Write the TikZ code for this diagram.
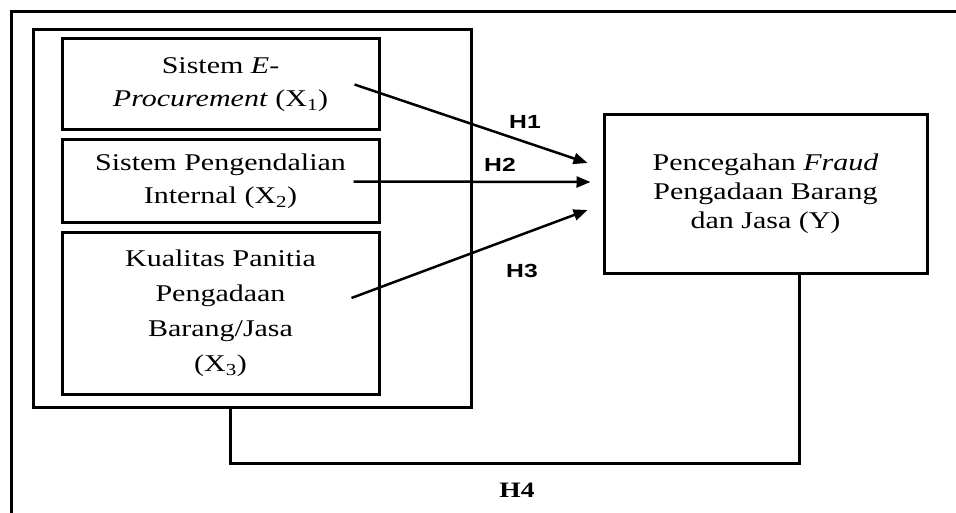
\documentclass[tikz,border=0pt]{standalone}
\usepackage{fontspec}
\setmainfont[FakeStretch=1.25]{Liberation Serif}
\newfontfamily\hypfont[FakeStretch=1.3]{Liberation Sans}
\usetikzlibrary{arrows.meta,calc}

\tikzset{
  varbox/.style={draw, line width=3pt, align=center, inner sep=0pt,
    font=\fontsize{24}{33}\selectfont},
  hyplabel/.style={font=\hypfont\bfseries\fontsize{19}{20}\selectfont},
  hyparrow/.style={line width=2.5pt, -{Triangle[length=14pt,width=11pt]}}
}

\begin{document}
\begin{tikzpicture}[x=1pt,y=-1pt]
  \useasboundingbox (0,0) rectangle (956,513);
  % outer frame (cut off at the page edges)
  \draw[line width=3pt] (11,513) -- (11,12) -- (956,12);

  \node[varbox, minimum width=438pt, minimum height=377pt] (grp) at (252,218.5) {};
  \node[varbox, minimum width=317pt, minimum height=91pt] (x1) at (220.5,84.5)
    {Sistem \textit{E}-\\\textit{Procurement} (X\textsubscript{1})};
  \node[varbox, minimum width=317pt, minimum height=83pt] (x2) at (220.5,181.5)
    {Sistem Pengendalian\\Internal (X\textsubscript{2})};
  \node[varbox, minimum width=317pt, minimum height=161pt, font=\fontsize{24}{35}\selectfont] (x3) at (220.5,313.5)
    {Kualitas Panitia\\Pengadaan\\Barang/Jasa\\(X\textsubscript{3})};
  \node[varbox, minimum width=323pt, minimum height=158pt, font=\fontsize{24}{29}\selectfont] (fraud) at (765.5,194)
    {Pencegahan \textit{Fraud}\\Pengadaan Barang\\dan Jasa (Y)};

  % hypotheses
  \draw[hyparrow] ($(x1.east)+(-26,0)$) -- ($(fraud.west)+(-15,-31)$);
  \draw[hyparrow] ($(x2.east)+(-27,0)$) -- ($(fraud.west)+(-12,-12)$);
  \draw[hyparrow] ($(x3.east)+(-29,-15.5)$) -- ($(fraud.west)+(-15,16)$);
  \draw[line width=3pt] ([xshift=-22pt]grp.south) -- ++(0,55) -| ([xshift=33.5pt]fraud.south);

  \node[hyplabel] (h1) at (525,122) {H1};
  \node[hyplabel] (h2) at (500,165) {H2};
  \node[hyplabel] (h3) at (522,271) {H3};
  \node[font=\bfseries\fontsize{22}{24}\selectfont] (h4) at (517,490) {H4};
\end{tikzpicture}
\end{document}
